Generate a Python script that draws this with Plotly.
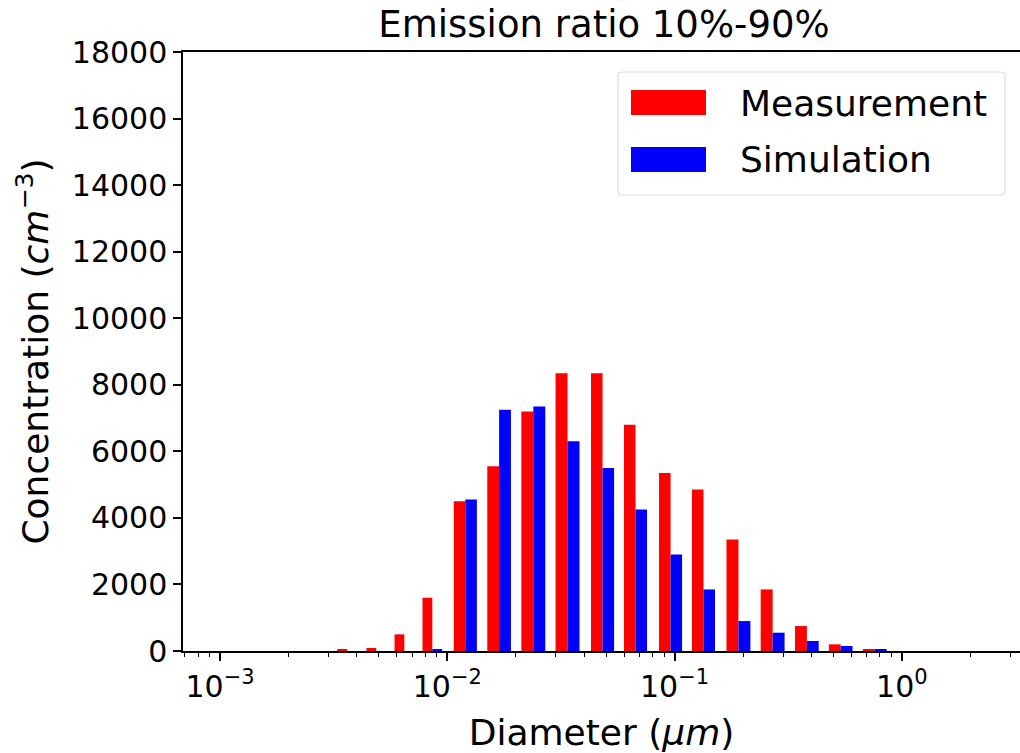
import numpy as np
import plotly.graph_objects as go

# ---- data ----
diameters_um = [0.00363, 0.00487, 0.00647, 0.00859, 0.0120, 0.0169, 0.0239, 0.0338,
                0.0482, 0.0673, 0.0960, 0.134, 0.191, 0.270, 0.382, 0.538, 0.760]
measurement = [50, 90, 500, 1600, 4500, 5550, 7200, 8350,
               8350, 6800, 5350, 4850, 3350, 1850, 750, 200, 40]
simulation = [0, 0, 0, 50, 4550, 7250, 7350, 6300,
              5500, 4250, 2900, 1850, 900, 550, 300, 150, 40]
series_names = ["Measurement", "Simulation"]
x_tick_exponents = [-3, -2, -1, 0]
y_ticks = list(range(0, 18001, 2000))

# ---- layout constants ----
W, H = 1020, 753
L, R, T, B = 183, 0, 52, 102
PW, PH = W - L - R, H - T - B
FONT = "DejaVu Sans"
RED, BLUE = "#ff0000", "#0000ff"

logd = np.log10(diameters_um)
gaps = np.diff(logd)
spacing = np.minimum(np.r_[gaps[0], gaps], np.r_[gaps, gaps[-1]])
bar_w = 0.35 * spacing

fig = go.Figure()
fig.add_trace(go.Bar(x=logd, y=measurement, width=bar_w, offset=-bar_w,
                     marker=dict(color=RED, line=dict(width=0)), name=series_names[0],
                     showlegend=False))
fig.add_trace(go.Bar(x=logd, y=simulation, width=bar_w, offset=0 * bar_w,
                     marker=dict(color=BLUE, line=dict(width=0)), name=series_names[1],
                     showlegend=False))

x_min = -3 + (L - 220) / 227.0
x_max = 0 + (W - 902) / 227.0
minor_vals = [np.log10(k * 10.0 ** n) for n in range(-4, 1) for k in range(2, 10)
              if x_min <= np.log10(k * 10.0 ** n) <= x_max]

fig.update_layout(
    width=W, height=H,
    margin=dict(l=L, r=R, t=T, b=B, pad=0),
    paper_bgcolor="white", plot_bgcolor="white",
    barmode="overlay",
    font=dict(family=FONT, color="black", size=30),
    title=dict(text="Emission ratio 10%-90%", font=dict(size=37, family=FONT, color="black"),
               x=604 / W, xref="container", xanchor="center",
               y=1 - 24 / H, yref="container", yanchor="middle"),
    xaxis=dict(
        range=[x_min, x_max], showgrid=False, zeroline=False,
        showline=True, linecolor="black", linewidth=1.5, mirror=True,
        ticks="outside", ticklen=8, tickwidth=1.5, tickcolor="black",
        tickvals=x_tick_exponents,
        ticktext=["10<sup>%s</sup>" % (str(e).replace("-", "\u2212")) for e in x_tick_exponents],
        tickfont=dict(size=30, family=FONT),
        minor=dict(tickvals=minor_vals, ticks="outside", ticklen=4, tickwidth=1,
                   tickcolor="black", showgrid=False),
        title=dict(text="Diameter (<i>\u03bcm</i>)", font=dict(size=36, family=FONT),
                   standoff=18),
    ),
    yaxis=dict(
        range=[0, 18000], showgrid=False, zeroline=False,
        showline=True, linecolor="black", linewidth=1.5, mirror=False,
        ticks="outside", ticklen=8, tickwidth=1.5, tickcolor="black",
        tickvals=y_ticks, tickformat="d",
        tickfont=dict(size=30, family=FONT),
        title=dict(text="Concentration (<i>cm</i><sup>\u22123</sup>)",
                   font=dict(size=36, family=FONT), standoff=12),
    ),
)

# ---- custom legend (matplotlib-like large patches) ----
def px2paper(x, y):
    return (x - L) / PW, (H - B - y) / PH

def rounded_rect(x0, y0, x1, y1, r):
    return (f"M{x0+r},{y0} L{x1-r},{y0} Q{x1},{y0} {x1},{y0+r} L{x1},{y1-r} "
            f"Q{x1},{y1} {x1-r},{y1} L{x0+r},{y1} Q{x0},{y1} {x0},{y1-r} "
            f"L{x0},{y0+r} Q{x0},{y0} {x0+r},{y0} Z")

lx0, ly0 = px2paper(618, 72)
lx1, ly1 = px2paper(1005, 195)
fig.add_shape(type="path", xref="paper", yref="paper",
              path=rounded_rect(lx0, ly1, lx1, ly0, 0.006),
              line=dict(color="#dddddd", width=1.2), fillcolor="rgba(255,255,255,0.8)")
for (yt, yb, col, name, yc) in [(90, 115, RED, series_names[0], 103),
                                (147, 172, BLUE, series_names[1], 160)]:
    ax0, ay0 = px2paper(631, yt)
    ax1, ay1 = px2paper(706, yb)
    fig.add_shape(type="rect", xref="paper", yref="paper", x0=ax0, x1=ax1, y0=ay1, y1=ay0,
                  line=dict(width=0), fillcolor=col)
    tx, ty = px2paper(738, yc)
    fig.add_annotation(text=name, xref="paper", yref="paper", x=tx, y=ty,
                       xanchor="left", yanchor="middle", showarrow=False,
                       font=dict(size=36, family=FONT, color="black"))

fig.write_html("out.html", config={"displayModeBar": False},
               post_script="document.body.style.margin='0px';"
                           "document.body.style.overflow='hidden';")
